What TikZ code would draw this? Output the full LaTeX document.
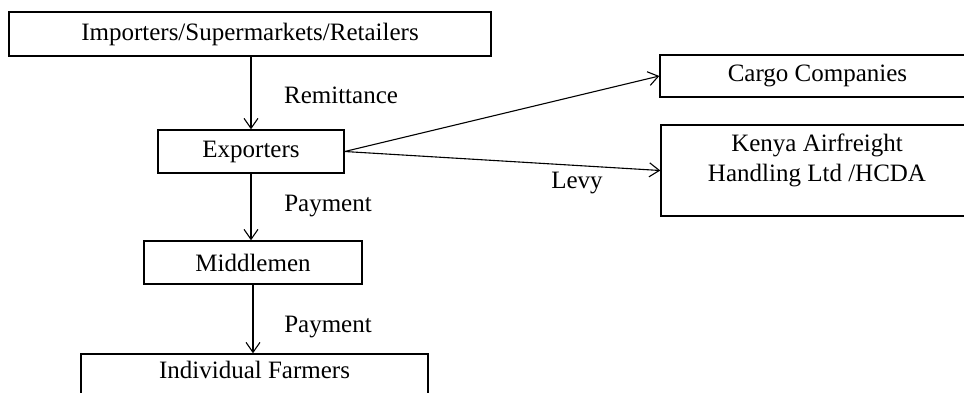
\documentclass[tikz,border=0pt]{standalone}
\usepackage{fontspec}
\setmainfont{Liberation Serif}
\usetikzlibrary{arrows.meta}
\begin{document}
\begin{tikzpicture}[x=1pt,y=-1pt,
  every node/.style={font=\fontsize{25}{30}\selectfont, inner sep=0pt},
  box/.style={draw, line width=1.4pt, rectangle},
  conn/.style={line width=1.1pt, -{Straight Barb[length=10pt,width=14pt,line width=1.1pt]}}]
\useasboundingbox (0,0) rectangle (964,392);
\fill[white] (0,0) rectangle (964,392);
% boxes
\node[box, minimum width=482pt, minimum height=44pt] (top) at (250,34) {Importers/Supermarkets/Retailers};
\node[box, minimum width=186pt, minimum height=43pt] (exp) at (251,151.5) {Exporters};
\node[box, minimum width=218pt, minimum height=43pt] (mid) at (253,262.5) {Middlemen};
\node[box, minimum width=347pt, minimum height=46pt] (farm) at (254.5,377) {};
\node (farmtext) at (254.5,370) {Individual Farmers};
\node[box, minimum width=315pt, minimum height=42pt] (cargo) at (817.5,76) {Cargo Companies};
\node[box, minimum width=314pt, minimum height=91pt] (kenya) at (818,170.5) {};
\node[align=center] (kenyatext) at (817,160) {Kenya Airfreight\\Handling Ltd /HCDA};
% connectors
\draw[conn] (exp.north |- top.south) -- (exp.north);
\draw[conn] (exp.south) -- (exp.south |- mid.north);
\draw[conn] (mid.south) -- (mid.south |- farm.north);
\draw[conn] (exp.east) -- (cargo.west);
\draw[conn] (exp.east) -- (kenya.west);
% labels
\node (lremit) at (341,95.5) {Remittance};
\node (lpay1) at (328,206) {Payment};
\node (lpay2) at (328,327.5) {Payment};
\node (llevy) at (577,183.5) {Levy};
\end{tikzpicture}
\end{document}
